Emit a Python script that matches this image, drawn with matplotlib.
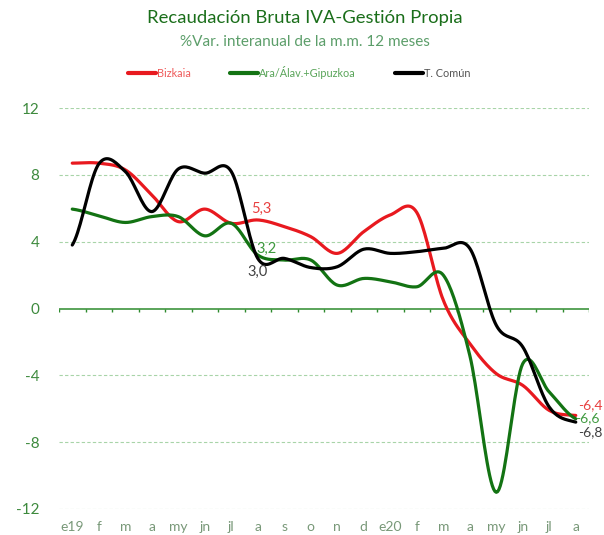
import numpy as np
import matplotlib
matplotlib.use("Agg")
import matplotlib.pyplot as plt

plt.rcParams['font.family'] = ['Lato', 'DejaVu Sans']

months = ["e19", "f", "m", "a", "my", "jn", "jl", "a", "s", "o", "n", "d",
          "e20", "f", "m", "a", "my", "jn", "jl", "a"]

bizkaia = [8.7, 8.7, 8.3, 6.8, 5.2, 5.95, 5.1, 5.3, 4.9, 4.3, 3.3, 4.6,
           5.6, 5.75, 0.5, -2.1, -3.9, -4.6, -6.1, -6.4]
araba_gipuzkoa = [5.95, 5.55, 5.15, 5.5, 5.5, 4.35, 5.1, 3.2, 2.9, 2.9, 1.4, 1.8,
                  1.6, 1.3, 2.0, -2.8, -11.0, -3.3, -5.0, -6.6]
t_comun = [3.8, 8.65, 8.2, 5.8, 8.35, 8.1, 8.2, 3.0, 3.0, 2.45, 2.5, 3.55,
           3.3, 3.4, 3.6, 3.6, -1.0, -2.3, -5.9, -6.8]

yticks = [-12, -8, -4, 0, 4, 8, 12]

RED = "#e8191f"
GREEN = "#137313"
BLACK = "#000000"
AXIS_GREEN = "#2e8b2e"


def smooth(y, n=20):
    # Catmull-Rom style smoothing, like the spreadsheet's smoothed lines
    y = np.asarray(y, dtype=float)
    x = np.arange(len(y), dtype=float)
    p = np.concatenate([[y[0]], y, [y[-1]]])
    xs, ys = [], []
    for i in range(len(y) - 1):
        p0, p1, p2, p3 = p[i], p[i + 1], p[i + 2], p[i + 3]
        t = np.linspace(0, 1, n, endpoint=False)
        yy = 0.5 * ((2 * p1) + (-p0 + p2) * t +
                    (2 * p0 - 5 * p1 + 4 * p2 - p3) * t ** 2 +
                    (-p0 + 3 * p1 - 3 * p2 + p3) * t ** 3)
        xs.append(x[i] + t)
        ys.append(yy)
    xs.append([x[-1]])
    ys.append([y[-1]])
    return np.concatenate(xs), np.concatenate(ys)


fig = plt.figure(figsize=(6.04, 5.35), dpi=100)
ax = fig.add_axes([0.0977, 0.0486, 0.8775, 0.7495])

series = [(bizkaia, RED, "Bizkaia", "#ef5a5a"),
          (araba_gipuzkoa, GREEN, "Ara/Álav.+Gipuzkoa", "#5aa55a"),
          (t_comun, BLACK, "T. Común", "#555555")]
for vals, col, lab, _ in series:
    xs, ys = smooth(vals)
    ax.plot(xs, ys, color=col, lw=2.3, label=lab, solid_capstyle="round",
            zorder=3)

ax.set_ylim(-12, 12)
ax.set_xlim(-0.5, len(months) - 0.5)
ax.set_yticks(yticks)
ax.set_yticklabels([str(v) for v in yticks])
ax.set_xticks(range(len(months)))
ax.set_xticklabels(months)
ax.tick_params(axis="both", length=0)
ax.tick_params(axis="x", pad=9, labelsize=10, labelcolor="#789878")
ax.tick_params(axis="y", pad=14, labelsize=11, labelcolor="#3d8a3d")
for s in ax.spines.values():
    s.set_visible(False)
for v in yticks:
    if v != 0:
        ax.axhline(v, color="#a8d4a8", lw=0.8, ls=(0, (3, 2)), zorder=0)

# zero axis with category tick marks
ax.axhline(0, color=AXIS_GREEN, lw=1.1, zorder=1)
ax.vlines(np.arange(len(months) + 1) - 0.5, -0.2, 0, color=AXIS_GREEN,
          lw=1.0, zorder=1)

# data labels
ax.text(7.15, 5.97, "5,3", color="#e84040", fontsize=10.5, ha="center", va="center")
ax.text(7.34, 3.58, "3,2", color="#3f9a3f", fontsize=10.5, ha="center", va="center")
ax.text(7.0, 2.2, "3,0", color="#404040", fontsize=10.5, ha="center", va="center")
ax.text(19.08, -5.79, "-6,4", color="#e84040", fontsize=10, ha="left", va="center")
ax.text(18.97, -6.57, "-6,6", color="#3f9a3f", fontsize=10, ha="left", va="center")
ax.text(19.08, -7.4, "-6,8", color="#404040", fontsize=10, ha="left", va="center")

fig.text(0.505, 1 - 18 / 535, "Recaudación Bruta IVA-Gestión Propia",
         ha="center", va="center", fontsize=13.3, color="#1a6e1a")
fig.text(0.505, 1 - 42 / 535, "%Var. interanual de la m.m. 12 meses",
         ha="center", va="center", fontsize=11, color="#5c9e6a")

leg = fig.legend(loc="center", bbox_to_anchor=(0.495, 1 - 72 / 535), ncol=3,
                 frameon=False, fontsize=7.8, handlelength=2.6,
                 handletextpad=0.1, columnspacing=3.6)
for txt, line, (_, _, _, tcol) in zip(leg.get_texts(), leg.get_lines(), series):
    txt.set_color(tcol)
    line.set_linewidth(3)

fig.savefig("out.png", dpi=100)
